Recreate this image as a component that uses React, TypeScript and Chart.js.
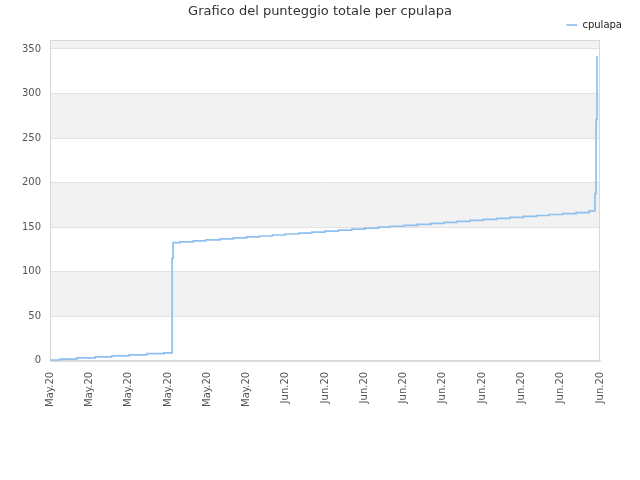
import React, { useEffect, useRef } from 'react'
import { Chart, registerables } from 'chart.js'

Chart.register(...registerables)

// tick labels along the time axis (one every 3 days)
const xTickLabels = [
	'May.20', 'May.20', 'May.20', 'May.20', 'May.20', 'May.20',
	'Jun.20', 'Jun.20', 'Jun.20', 'Jun.20', 'Jun.20', 'Jun.20', 'Jun.20', 'Jun.20', 'Jun.20',
]

// day offset of each score change
const stepDays = [
	0, 0.76, 2.04, 3.44, 4.71, 6.03, 7.38, 8.7,
	9.32, 9.32, 9.32, 9.32, 9.32, 9.39,
	9.93, 10.94, 11.89, 12.98, 14.0, 15.02, 15.98, 16.98, 17.97, 19.01, 19.99,
	21.0, 22.02, 23.04, 24.05, 25.07, 25.96, 27.03, 28.05, 29.07, 30.09, 31.06,
	32.07, 33.09, 34.11, 35.13, 36.14, 37.17, 38.13, 39.15, 40.17, 41.18,
	41.62, 41.7, 41.7, 41.77, 41.77,
]

// total score after each change
const totalScore = [
	0.75, 1.9, 3.4, 4.5, 5.6, 6.7, 8.2, 9.0,
	22, 45, 70, 98, 115, 132.6,
	133.6, 134.7, 135.8, 136.9, 138.0, 139.1, 140.1, 141.2, 142.3, 143.4, 144.5,
	145.6, 146.7, 147.8, 148.9, 150.0, 151.0, 152.1, 153.2, 154.3, 155.4, 156.5,
	157.6, 158.7, 159.8, 160.9, 162.0, 163.1, 164.2, 165.3, 166.4, 168.2,
	187.6, 206, 271, 293, 342,
]

const yTickStep = 50
const yMax = 360

const FONT = '"DejaVu Sans", Verdana, sans-serif'

const bandsPlugin = {
	id: 'bands',
	beforeDraw(chart: any) {
		const { ctx, chartArea: a, scales } = chart
		const y = scales.y
		ctx.save()
		ctx.fillStyle = '#ffffff'
		ctx.fillRect(0, 0, chart.width, chart.height)
		ctx.fillStyle = '#f2f2f2'
		const vals = y.ticks.map((t: any) => t.value)
		for (let k = 1; k < vals.length; k += 2) {
			const top = k + 1 < vals.length ? y.getPixelForValue(vals[k + 1]) : a.top
			const bottom = y.getPixelForValue(vals[k])
			ctx.fillRect(a.left, top, a.right - a.left, bottom - top)
		}
		ctx.restore()
	},
	beforeDatasetsDraw(chart: any) {
		const { ctx, chartArea: a } = chart
		ctx.save()
		ctx.strokeStyle = '#d8d8d8'
		ctx.lineWidth = 1
		ctx.strokeRect(a.left + 0.5, a.top + 0.5, a.right - a.left - 1, a.bottom - a.top)
		ctx.restore()
	},
	afterDraw(chart: any) {
		const { ctx } = chart
		ctx.save()
		ctx.font = '13px ' + FONT
		ctx.fillStyle = '#333333'
		ctx.textAlign = 'center'
		ctx.textBaseline = 'middle'
		ctx.fillText('Grafico del punteggio totale per cpulapa', chart.width / 2, 12)
		ctx.restore()
	},
}

const ScoreChart: React.FC = () => {
	const chartRef = useRef<HTMLCanvasElement>(null)

	useEffect(() => {
		document.body.style.margin = '0'
		if (!chartRef.current) return
		const context = chartRef.current.getContext('2d')
		if (!context) return

		const chart = new Chart(context, {
			type: 'line',
			data: {
				datasets: [
					{
						label: 'cpulapa',
						data: stepDays.map((d, i) => ({ x: d, y: totalScore[i] })),
						borderColor: '#8ec0f0',
						backgroundColor: '#8ec0f0',
						borderWidth: 1.7,
						pointRadius: 0,
						stepped: true,
						fill: false,
					},
				],
			},
			options: {
				responsive: false,
				animation: false,
				layout: {
					padding: { left: 13, right: 8, top: 0, bottom: 62 },
				},
				plugins: {
					legend: {
						display: true,
						position: 'top',
						align: 'end',
						labels: {
							usePointStyle: true,
							pointStyle: 'line',
							pointStyleWidth: 11,
							padding: 10,
							color: '#222222',
							font: { family: FONT, size: 10 },
						},
					},
					title: { display: false },
					tooltip: { enabled: false },
				},
				scales: {
					x: {
						type: 'linear',
						min: 0,
						max: 42,
						grid: { display: false, drawTicks: false },
						border: { display: true, color: '#d8d8d8' },
						ticks: {
							stepSize: 3,
							autoSkip: false,
							maxRotation: 90,
							minRotation: 90,
							padding: 11,
							color: '#555555',
							font: { family: FONT, size: 10 },
							callback: (value: any) => xTickLabels[Math.round(Number(value) / 3)] ?? '',
						},
						afterFit: (scale: any) => {
							scale.paddingRight = 40
						},
					},
					y: {
						min: 0,
						max: yMax,
						grid: { color: '#e2e2e2', drawTicks: false },
						border: { display: true, color: '#d8d8d8' },
						ticks: {
							stepSize: yTickStep,
							includeBounds: false,
							padding: 9,
							color: '#555555',
							font: { family: FONT, size: 10 },
						},
						afterFit: (scale: any) => {
							scale.paddingTop = 40
						},
					},
				},
			},
			plugins: [bandsPlugin],
		})

		return () => {
			chart.destroy()
		}
	}, [])

	return <canvas ref={chartRef} width={640} height={480} />
}

export default function App() {
	return <ScoreChart />
}
